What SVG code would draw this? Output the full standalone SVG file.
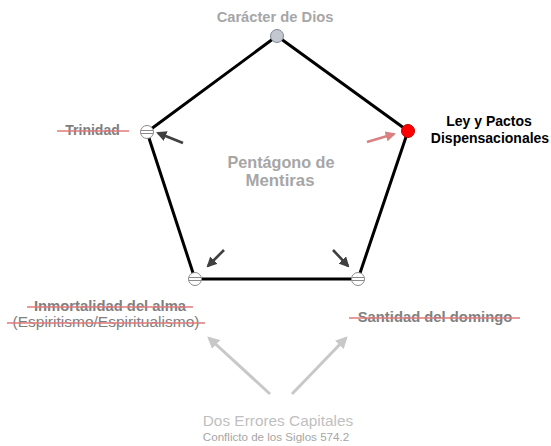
<svg xmlns="http://www.w3.org/2000/svg" width="551" height="446" viewBox="0 0 551 446">
<defs>
<style>
text{font-family:"Liberation Sans",Arial,sans-serif;text-anchor:middle}
.b{font-weight:bold}
.g1{fill:#a6a6a6}
.g2{fill:#7f7f7f}
.g3{fill:#bfbfbf}
.strike{stroke:#e07a7a;stroke-width:1.6}
.edge{stroke:#000;stroke-width:3;fill:none;stroke-linecap:round}
.ad{stroke:#404040;stroke-width:2.6;marker-end:url(#hd)}
.ar{stroke:#d98080;stroke-width:2.6;marker-end:url(#hr)}
.al{stroke:#c8c8c8;stroke-width:3;marker-end:url(#hl)}
.nd{fill:#fff;stroke:#8a8a8a;stroke-width:1}
.nl{stroke:#8a8a8a;stroke-width:1}
</style>
<marker id="hd" viewBox="0 0 10 10" refX="8" refY="5" markerWidth="4" markerHeight="4" orient="auto"><path d="M0,0L10,5L0,10z" fill="#404040"/></marker>
<marker id="hr" viewBox="0 0 10 10" refX="8" refY="5" markerWidth="4" markerHeight="4" orient="auto"><path d="M0,0L10,5L0,10z" fill="#d98080"/></marker>
<marker id="hl" viewBox="0 0 10 10" refX="8" refY="5" markerWidth="4" markerHeight="4" orient="auto"><path d="M0,0L10,5L0,10z" fill="#c8c8c8"/></marker>
</defs>
<rect width="551" height="446" fill="#fff"/>
<g id="connectors">
<path class="edge" d="M277,36L147,132M277,36L408,131M408,131L358,279M358,279L195,279M147,132L195,279"/>
<line class="ad" x1="183" y1="143" x2="158" y2="133"/>
<line class="ar" x1="367" y1="142" x2="394" y2="134"/>
<line class="ad" x1="224" y1="250" x2="208" y2="266"/>
<line class="ad" x1="333" y1="250" x2="348" y2="266"/>
<line class="al" x1="270" y1="394" x2="209" y2="338"/>
<line class="al" x1="292" y1="394" x2="346" y2="338"/>
</g>
<g id="caracter">
<circle cx="277" cy="36" r="6.5" fill="#c3c7ce" stroke="#7f8a99" stroke-width="1"/>
<text class="b g1" x="275" y="22" font-size="14.7">Carácter de Dios</text>
</g>
<g id="ley">
<circle cx="408" cy="131" r="6.5" fill="#ff0000" stroke="#c00000" stroke-width="1"/>
<text class="b" x="489" y="126" font-size="14" fill="#000">Ley y Pactos</text>
<text class="b" x="490" y="143" font-size="14" fill="#000">Dispensacionales</text>
</g>
<g id="trinidad">
<circle class="nd" cx="147" cy="132" r="6.5"/>
<line class="nl" x1="140.8" y1="130.5" x2="153.2" y2="130.5"/>
<line class="nl" x1="140.8" y1="133.5" x2="153.2" y2="133.5"/>
<text class="b g2" x="92.5" y="135" font-size="14">Trinidad</text>
<line class="strike" x1="57" y1="131" x2="129" y2="131"/>
</g>
<g id="inmortalidad">
<circle class="nd" cx="195" cy="279" r="6.5"/>
<line class="nl" x1="188.8" y1="277.5" x2="201.2" y2="277.5"/>
<line class="nl" x1="188.8" y1="280.5" x2="201.2" y2="280.5"/>
<text class="b g2" x="110" y="311" font-size="14.8">Inmortalidad del alma</text>
<line class="strike" x1="27" y1="307" x2="193" y2="307"/>
<text class="g2" x="106" y="327" font-size="15.5">(Espiritismo/Espiritualismo)</text>
<line class="strike" x1="7" y1="323" x2="205" y2="323"/>
</g>
<g id="santidad">
<circle class="nd" cx="358" cy="279" r="6.5"/>
<line class="nl" x1="351.8" y1="277.5" x2="364.2" y2="277.5"/>
<line class="nl" x1="351.8" y1="280.5" x2="364.2" y2="280.5"/>
<text class="b g2" x="435" y="322" font-size="14.8">Santidad del domingo</text>
<line class="strike" x1="349" y1="318" x2="520" y2="318"/>
</g>
<g id="pentagono">
<text class="b g1" x="281" y="168" font-size="16.2">Pentágono de</text>
<text class="b g1" x="280" y="186" font-size="16.8">Mentiras</text>
</g>
<g id="errores">
<text class="g3" x="278" y="426" font-size="15.4">Dos Errores Capitales</text>
<text class="g1" x="276" y="441" font-size="11.6">Conflicto de los Siglos 574.2</text>
</g>
</svg>
